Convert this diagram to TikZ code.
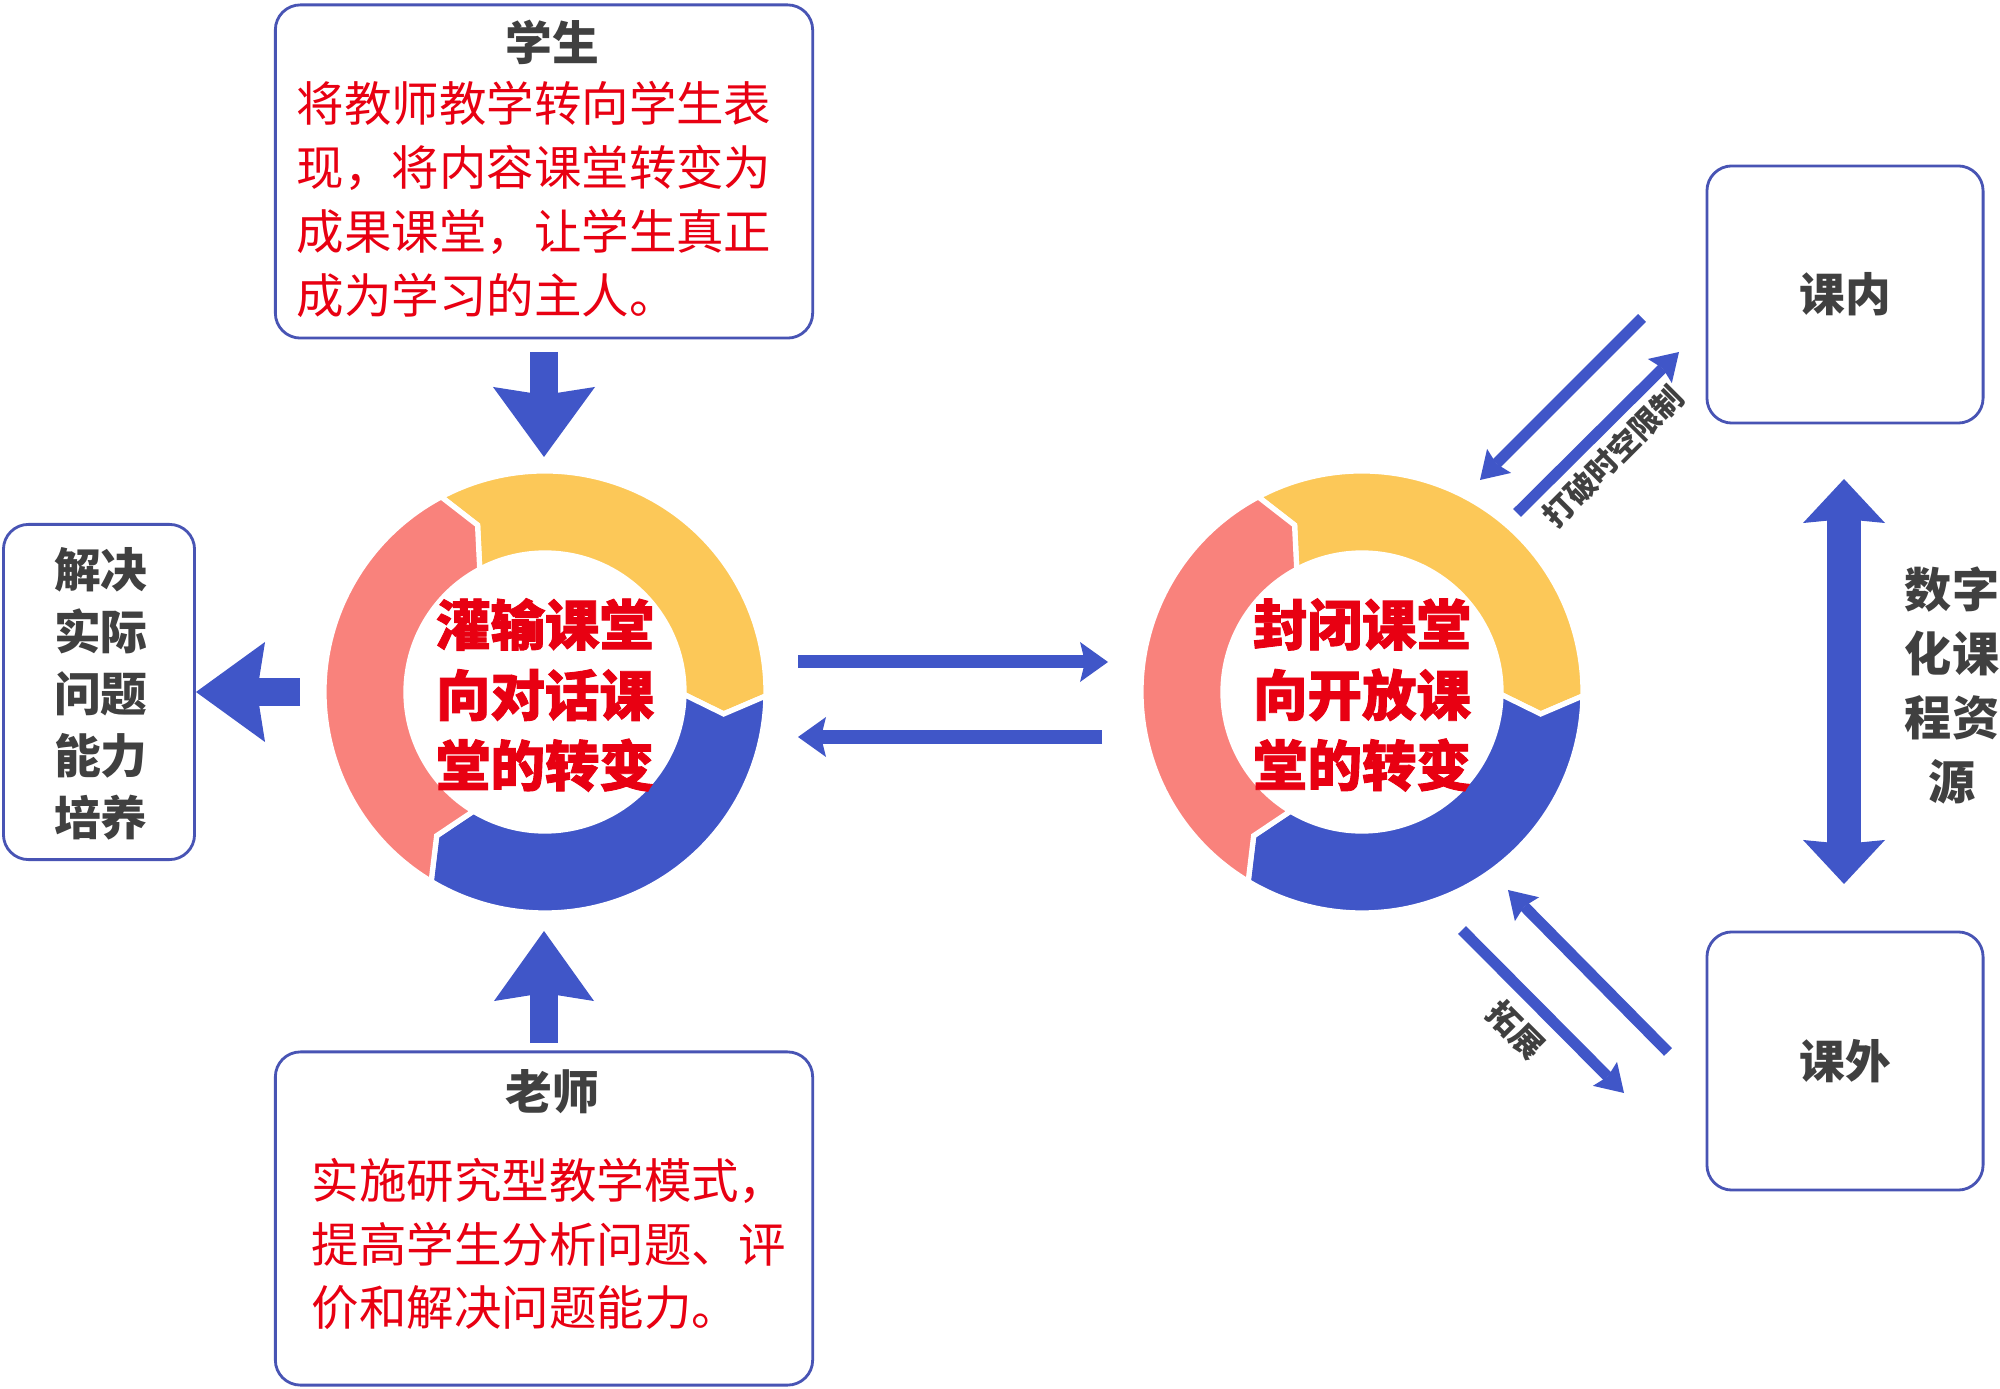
\documentclass[tikz,border=0pt]{standalone}
\usepackage{fontspec}
\newfontfamily\cjk{Noto Sans CJK SC}
\newfontfamily\cjkheavy[BoldFeatures={FakeBold=1.6}]{Noto Sans CJK SC}
\usetikzlibrary{arrows.meta}
\definecolor{ringyel}{RGB}{252,200,88}
\definecolor{ringsal}{RGB}{249,130,124}
\definecolor{ringblu}{RGB}{64,86,200}
\definecolor{arrblu}{RGB}{64,86,200}
\definecolor{boxblu}{RGB}{72,84,180}
\definecolor{txtred}{RGB}{232,0,18}
\definecolor{txtdark}{RGB}{64,64,64}
\newcommand\myring[2]{%
 \begin{scope}[shift={(#1,#2)}, x=0.01cm, y=0.01cm]
  \path[fill=ringyel, draw=white, line width=1.5pt] (118:221) arc[start angle=118,end angle=-1,radius=221] -- (-7:180) -- (-1:139) arc[start angle=-1,end angle=118,radius=139] -- (112:180) -- cycle;
  \path[fill=ringblu, draw=white, line width=1.5pt] (-1:221) arc[start angle=-1,end angle=-121,radius=221] -- (-127:180) -- (-121:139) arc[start angle=-121,end angle=-1,radius=139] -- (-7:180) -- cycle;
  \path[fill=ringsal, draw=white, line width=1.5pt] (-121:221) arc[start angle=-121,end angle=-242,radius=221] -- (-248:180) -- (-242:139) arc[start angle=-242,end angle=-121,radius=139] -- (-127:180) -- cycle;
 \end{scope}}
\begin{document}
\begin{tikzpicture}[x=0.01cm,y=-0.01cm,
  box/.style={draw=boxblu, line width=0.8pt, rounded corners=0.25cm, fill=white, inner sep=0pt},
  title/.style={text=txtdark, font=\cjk\bfseries\fontsize{13.3pt}{16pt}\selectfont, inner sep=0pt},
  body/.style={text=txtred, align=left, inner sep=0pt},
  ringtext/.style={text=txtred, align=center, inner sep=0pt, font=\cjkheavy\bfseries\fontsize{15.5pt}{20pt}\selectfont},
  fatarrow/.style={draw=arrblu, line width=0.28cm},
  thinarrow/.style={draw=arrblu, line width=0.13cm, -{Stealth[width=0.40cm,length=0.28cm,inset=0.05cm,line width=0pt]}},
  diagarrow/.style={draw=arrblu, line width=0.11cm, -{Stealth[width=0.34cm,length=0.27cm,inset=0.04cm,line width=0pt]}},
  small/.style={text=txtdark, inner sep=0pt, font=\cjk\bfseries\fontsize{8.7pt}{10pt}\selectfont}]
\useasboundingbox (0,0) rectangle (2000,1389);
\fill[white] (0,0) rectangle (2000,1389);

% rings
\myring{545}{692}
\myring{1362}{692}
\node[ringtext] (ringL) at (545,695) {灌输课堂\\向对话课\\堂的转变};
\node[ringtext] (ringR) at (1362,695) {封闭课堂\\向开放课\\堂的转变};

% top box
\node[box, minimum width=5.37cm, minimum height=3.33cm] (stubox) at (544,171.5) {};
\node[title] (stutitle) at (552,42) {学生};
\node[body, anchor=west, font=\cjk\fontsize{13.5pt}{18.2pt}\selectfont] (stutext) at (296,199) {将教师教学转向学生表\\现，将内容课堂转变为\\成果课堂，让学生真正\\成为学习的主人。};

% bottom box
\node[box, minimum width=5.37cm, minimum height=3.33cm] (teabox) at (544,1218.5) {};
\node[title] (teatitle) at (552,1092) {老师};
\node[body, anchor=west, font=\cjk\fontsize{13.5pt}{18pt}\selectfont] (teatext) at (311,1244) {实施研究型教学模式，\\提高学生分析问题、评\\价和解决问题能力。};

% left box
\node[box, minimum width=1.91cm, minimum height=3.35cm] (leftbox) at (99,692) {};
\node[title, align=center, font=\cjk\bfseries\fontsize{13.3pt}{17.6pt}\selectfont] (lefttext) at (101,694) {解决\\实际\\问题\\能力\\培养};

% right boxes
\node[box, minimum width=2.76cm, minimum height=2.57cm] (inbox) at (1845,294.5) {};
\node[title, font=\cjk\bfseries\fontsize{13pt}{16pt}\selectfont] (intext) at (inbox) {课内};
\node[box, minimum width=2.76cm, minimum height=2.58cm] (outbox) at (1845,1061) {};
\node[title, font=\cjk\bfseries\fontsize{13pt}{16pt}\selectfont] (outtext) at (outbox) {课外};
\node[title, align=center, font=\cjk\bfseries\fontsize{13.4pt}{18.2pt}\selectfont] (digi) at (1952,685) {数字\\化课\\程资\\源};

% fat arrows
\coordinate (dA) at (544,352);
\coordinate (dB) at (544,457);
\draw[fatarrow, -{Stealth[width=1.02cm,length=0.70cm,inset=0.08cm,line width=0pt]}] (dA) -- (dB);
\coordinate (uA) at (544,1043);
\coordinate (uB) at (544,931);
\draw[fatarrow, -{Stealth[width=1.00cm,length=0.70cm,inset=0.08cm,line width=0pt]}] (uA) -- (uB);
\coordinate (lA) at (300,692);
\coordinate (lB) at (196,692);
\draw[fatarrow, line width=0.27cm, -{Stealth[width=1.00cm,length=0.69cm,inset=0.08cm,line width=0pt]}] (lA) -- (lB);
\coordinate (vA) at (1844,479);
\coordinate (vB) at (1844,884);
\draw[draw=arrblu, line width=0.34cm, {Stealth[width=0.82cm,length=0.44cm,inset=0.04cm,line width=0pt]}-{Stealth[width=0.82cm,length=0.44cm,inset=0.04cm,line width=0pt]}] (vA) -- (vB);

% horizontal arrows
\coordinate (h1a) at (798,662);
\coordinate (h1b) at (1108,662);
\coordinate (h2a) at (1102,737);
\coordinate (h2b) at (798,737);
\draw[thinarrow] (h1a) -- (h1b);
\draw[thinarrow] (h2a) -- (h2b);

% diagonal arrows (top)
\coordinate (t1a) at (1642,318);
\coordinate (t1b) at (1480,480);
\coordinate (t2a) at (1517,513);
\coordinate (t2b) at (1679,352);
\draw[diagarrow] (t1a) -- (t1b);
\draw[diagarrow] (t2a) -- (t2b);
\node[small, rotate=45] (breaklbl) at (1613,456) {打破时空限制};

% diagonal arrows (bottom)
\coordinate (b1a) at (1668,1052);
\coordinate (b1b) at (1508,890);
\coordinate (b2a) at (1462,930);
\coordinate (b2b) at (1624,1093);
\draw[diagarrow] (b1a) -- (b1b);
\draw[diagarrow] (b2a) -- (b2b);
\node[small, rotate=-45, font=\cjk\bfseries\fontsize{9.2pt}{10pt}\selectfont] (extlbl) at (1516,1030) {拓展};
\end{tikzpicture}
\end{document}
